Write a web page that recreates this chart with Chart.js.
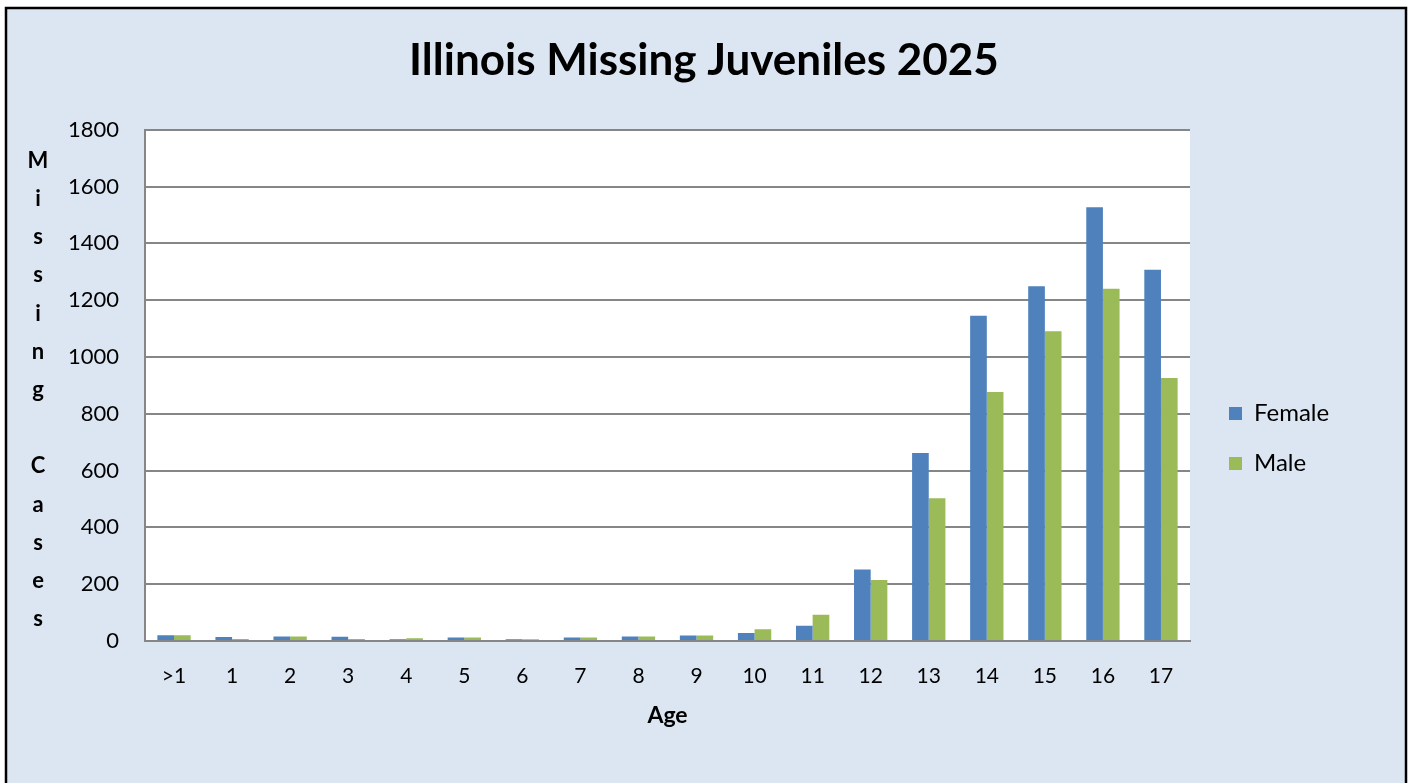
<!DOCTYPE html>
<html>
<head>
<meta charset="utf-8">
<script src="https://cdn.jsdelivr.net/npm/chart.js@4"></script>
<style>
  html, body { margin: 0; padding: 0; background: #ffffff; }
  #wrap { position: absolute; left: 0; top: 0; width: 1408px; height: 783px; }
</style>
</head>
<body>
<div id="wrap"><canvas id="c" width="1408" height="783"></canvas></div>
<script>
const chartTitle = 'Illinois Missing Juveniles 2025';
const xAxisTitle = 'Age';
const yAxisTitle = 'Missing Cases';
const ages = ['>1', '1', '2', '3', '4', '5', '6', '7', '8', '9', '10', '11', '12', '13', '14', '15', '16', '17'];
const seriesNames = ['Female', 'Male'];
const femaleCases = [20, 14, 16, 15, 6, 12, 6, 12, 16, 19, 28, 54, 252, 662, 1145, 1249, 1527, 1307];
const maleCases = [20, 7, 16, 7, 10, 12, 6, 12, 16, 19, 41, 92, 215, 503, 877, 1091, 1240, 926];
const yTicks = [0, 200, 400, 600, 800, 1000, 1200, 1400, 1600, 1800];

const FONT = 'Lato, "Liberation Sans", sans-serif';

const framePlugin = {
  id: 'frame',
  beforeDraw(chart) {
    const ctx = chart.ctx;
    ctx.save();
    ctx.fillStyle = '#ffffff';
    ctx.fillRect(0, 0, chart.width, chart.height);
    ctx.fillStyle = '#dce6f2';
    ctx.fillRect(6, 8, 1400, 800);
    ctx.strokeStyle = '#000000';
    ctx.lineWidth = 2.5;
    ctx.strokeRect(6, 8, 1400, 800);
    const a = chart.chartArea;
    ctx.fillStyle = '#ffffff';
    ctx.fillRect(a.left, a.top, a.right - a.left, a.bottom - a.top);
    ctx.restore();
  },
  afterDraw(chart) {
    const ctx = chart.ctx;
    const a = chart.chartArea;
    ctx.save();
    ctx.fillStyle = '#000000';
    ctx.font = 'bold 22px ' + FONT;
    ctx.textAlign = 'center';
    ctx.textBaseline = 'middle';
    const letters = yAxisTitle.split('');
    const step = 38.2;
    const y0 = a.top + 31;
    letters.forEach((ch, i) => {
      if (ch.trim()) ctx.fillText(ch, 38, y0 + i * step);
    });
    ctx.restore();
  }
};

const legendLayout = {
  id: 'legendLayout',
  beforeUpdate(chart) {
    const lg = chart.legend;
    if (lg && !lg._fixedWidth) {
      const orig = lg.fit.bind(lg);
      lg.fit = function () { orig(); this.width = 218; };
      lg._fixedWidth = true;
    }
  },
  afterUpdate(chart) {
    const lg = chart.legend;
    if (!lg) return;
    const dx = 13, dy = 74;
    lg.left += dx; lg.right += dx;
    lg.top += dy; lg.bottom += dy;
    if (lg.legendHitBoxes) lg.legendHitBoxes.forEach(b => { b.left += dx; b.top += dy; });
  }
};

new Chart(document.getElementById('c'), {
  type: 'bar',
  data: {
    labels: ages,
    datasets: [
      { label: seriesNames[0], data: femaleCases, backgroundColor: '#4f81bd', borderWidth: 0,
        categoryPercentage: 0.574, barPercentage: 1.0 },
      { label: seriesNames[1], data: maleCases, backgroundColor: '#9bbb59', borderWidth: 0,
        categoryPercentage: 0.574, barPercentage: 1.0 }
    ]
  },
  options: {
    responsive: false,
    animation: false,
    devicePixelRatio: 1,
    layout: { padding: { top: 0, left: 0, right: 0, bottom: 54 } },
    plugins: {
      title: {
        display: true,
        text: chartTitle,
        color: '#000000',
        font: { family: FONT, size: 44, weight: 'bold' },
        padding: { top: 34, bottom: 43 }
      },
      legend: {
        display: true,
        position: 'right',
        labels: {
          color: '#000000',
          font: { family: FONT, size: 24 },
          boxWidth: 13,
          boxHeight: 13,
          padding: 26
        }
      },
      tooltip: { enabled: false }
    },
    scales: {
      x: {
        grid: { display: false, drawTicks: false },
        border: { display: true, color: '#868686', width: 2 },
        ticks: { color: '#000000', font: { family: FONT, size: 21 }, padding: 23, maxRotation: 0, autoSkip: false },
        title: { display: true, text: xAxisTitle, color: '#000000', font: { family: FONT, size: 23, weight: 'bold' }, padding: { top: 0, bottom: 0 } },
        afterFit(scale) { scale.height = 88; }
      },
      y: {
        min: 0,
        max: 1800,
        afterBuildTicks(scale) { scale.ticks = yTicks.map(v => ({ value: v })); },
        grid: { color: '#868686', lineWidth: 2, drawTicks: false },
        border: { display: true, color: '#868686', width: 2 },
        ticks: { color: '#000000', font: { family: FONT, size: 22 }, padding: 26, callback: (v) => String(v) },
        afterFit(scale) { scale.width = 145; }
      }
    }
  },
  plugins: [framePlugin, legendLayout]
});
</script>
</body>
</html>
